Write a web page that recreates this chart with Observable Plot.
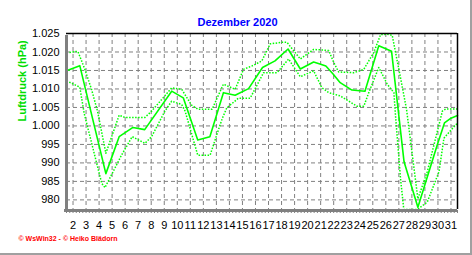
<!DOCTYPE html>
<html><head><meta charset="utf-8">
<script src="https://cdn.jsdelivr.net/npm/d3@7"></script>
<script src="https://cdn.jsdelivr.net/npm/@observablehq/plot@0.6"></script>
<style>
body{margin:0;background:#fff}
#wrap{position:relative;width:472px;height:255px;overflow:hidden}
#edge{position:absolute;left:0;top:0;width:472px;height:255px;box-sizing:border-box;border-right:2px solid #a0a0a0;border-bottom:2px solid #a0a0a0;pointer-events:none}
</style>
</head><body><div id="wrap"><div id="edge"></div></div>
<script>
const title = "Dezember 2020";
const yLabel = "Luftdruck (hPa)";
const footer = "© WsWin32 - © Heiko Blädorn";
const dayTicks = [2,3,4,5,6,7,8,9,10,11,12,13,14,15,16,17,18,19,20,21,22,23,24,25,26,27,28,29,30,31];
const yTicks = [980,985,990,995,1000,1005,1010,1015,1020,1025];
const yTickLabels = ["980","985","990","995","1.000","1.005","1.010","1.015","1.020","1.025"];

const meanDay = [1.5,2.52,4.52,5.54,6.6,7.5,9.57,10.46,11.57,12.5,13.54,14.44,15.47,16.54,17.5,18.5,19.44,20.46,21.0,21.4,21.97,22.5,23.4,24.4,25.46,26.44,27.4,28.46,29.95,30.5,31.0,31.5];
const meanHpa = [1014.9,1016.3,987.1,997.1,999.6,999.0,1009.4,1007.6,996.2,997.1,1009.0,1008.3,1010.1,1015.8,1017.6,1020.8,1015.4,1017.3,1016.7,1016.2,1014.0,1011.7,1009.7,1009.4,1021.7,1020.2,990.3,978.0,994.9,1000.8,1002.1,1002.8];

const maxDay = [1.5,2.13,2.38,2.9,3.42,3.88,4.52,5.54,5.98,7.52,8.03,9.57,10.34,11.1,11.6,12.67,13.54,14.44,15.08,15.85,16.49,17.13,18.03,18.42,19.44,20.46,21.62,22.0,22.38,23.54,24.31,25.08,25.6,26.11,26.49,27.13,27.59,28.46,29.18,30.34,30.59,31.5];
const maxHpa = [1019.7,1020.1,1020.1,1015.4,1009.9,1004.0,992.6,1002.9,1002.3,1002.3,1004.0,1010.3,1009.9,1005.6,1004.5,1004.5,1011.3,1009.9,1015.3,1016.4,1017.6,1022.2,1022.6,1022.6,1018.1,1020.7,1020.4,1017.2,1014.6,1014.4,1015.3,1019.9,1024.7,1024.8,1024.5,1013.0,1004.5,980.3,987.6,1004.0,1004.6,1004.6];

const minDay = [1.5,2.52,2.85,4.2,4.45,5.72,6.54,7.52,8.03,9.05,9.57,10.34,10.6,11.57,12.52,13.03,13.45,13.8,14.69,15.59,16.62,17.65,18.54,19.44,20.46,21.1,21.62,22.52,23.8,24.31,24.69,25.46,26.11,26.62,26.75,27.13,27.38,28.42,29.18,30.08,30.46,31.36,31.5];
const minHpa = [1012.2,1010.5,1003.5,984.5,983.3,992.1,997.1,995.3,997.1,1004.0,1006.7,1005.8,1004.0,992.1,992.1,997.6,1002.0,1004.9,1007.5,1007.5,1014.4,1014.4,1018.1,1013.3,1014.9,1010.3,1009.0,1008.1,1005.3,1005.3,1009.0,1015.8,1011.3,1009.0,1002.5,985.7,977.4,977.4,979.4,987.6,996.7,1000.3,1000.6];

const toRows = (xs, ys) => xs.map((d, i) => ({day: d, hpa: ys[i]}));
const meanRows = toRows(meanDay, meanHpa);
const maxRows = toRows(maxDay, maxHpa);
const minRows = toRows(minDay, minHpa);
const xDomain = [1.5, 31.5];
const yDomain = [977.4, 1025];
const minorTicks = d3.range(xDomain[0], xDomain[1] + 0.001, 0.25);
const green = "#00ff00";
const gridStyle = {stroke: "#808080", strokeOpacity: 1, strokeDasharray: "4,3", strokeWidth: 1};
const dotStyle = {x: "day", y: "hpa", stroke: green, strokeWidth: 1.5, strokeDasharray: "1.5,1.5", strokeLinecap: "butt"};

const chart = Plot.plot({
  width: 472, height: 255,
  marginLeft: 66, marginRight: 15, marginTop: 33, marginBottom: 46,
  style: {fontFamily: "'Liberation Sans', Arial, sans-serif", fontSize: "11px", background: "white", color: "black", overflow: "visible"},
  x: {domain: xDomain, label: null},
  y: {domain: yDomain, label: null},
  marks: [
    Plot.gridX(dayTicks, gridStyle),
    Plot.gridY(yTicks, gridStyle),
    Plot.line(maxRows, dotStyle),
    Plot.line(minRows, dotStyle),
    Plot.line(meanRows, {x: "day", y: "hpa", stroke: green, strokeWidth: 1.6}),
    Plot.ruleY([yDomain[1]], {stroke: "black", strokeWidth: 1.5}),
    Plot.ruleX([xDomain[1]], {stroke: "black", strokeWidth: 1.5}),
    Plot.ruleX([xDomain[0]], {stroke: "#808080", strokeWidth: 3, y1: yDomain[0], y2: yDomain[1], insetBottom: -2}),
    Plot.ruleY([yDomain[0]], {stroke: "#808080", strokeWidth: 3, dy: 1, insetLeft: -2}),
    Plot.axisY(yTicks, {label: null, tickSize: 0, tickPadding: 7, tickFormat: d => yTickLabels[yTicks.indexOf(d)], fontSize: 11, fill: "black"}),
    Plot.axisX(minorTicks, {label: null, tickSize: 3, dy: 1, tickFormat: () => "", stroke: "#808080", tickPadding: 0}),
    Plot.axisX(dayTicks, {label: null, tickSize: 0, tickPadding: 12, tickFormat: d => String(d), fontSize: 11, fill: "black"}),
    Plot.text([title], {frameAnchor: "top", dx: -24.5, dy: -15, text: d => d, fill: "#0000ff", fontWeight: "bold", fontSize: 11}),
    Plot.text([yLabel], {frameAnchor: "left", dx: -44, rotate: -90, text: d => d, fill: "#00dd00", fontWeight: "bold", fontSize: 11}),
    Plot.text([footer], {frameAnchor: "bottom-left", dx: -48, dy: 31, textAnchor: "start", text: d => d, fill: "#ff0000", fontWeight: "bold", fontSize: 7})
  ]
});
document.getElementById("wrap").prepend(chart);
</script>
</body></html>
